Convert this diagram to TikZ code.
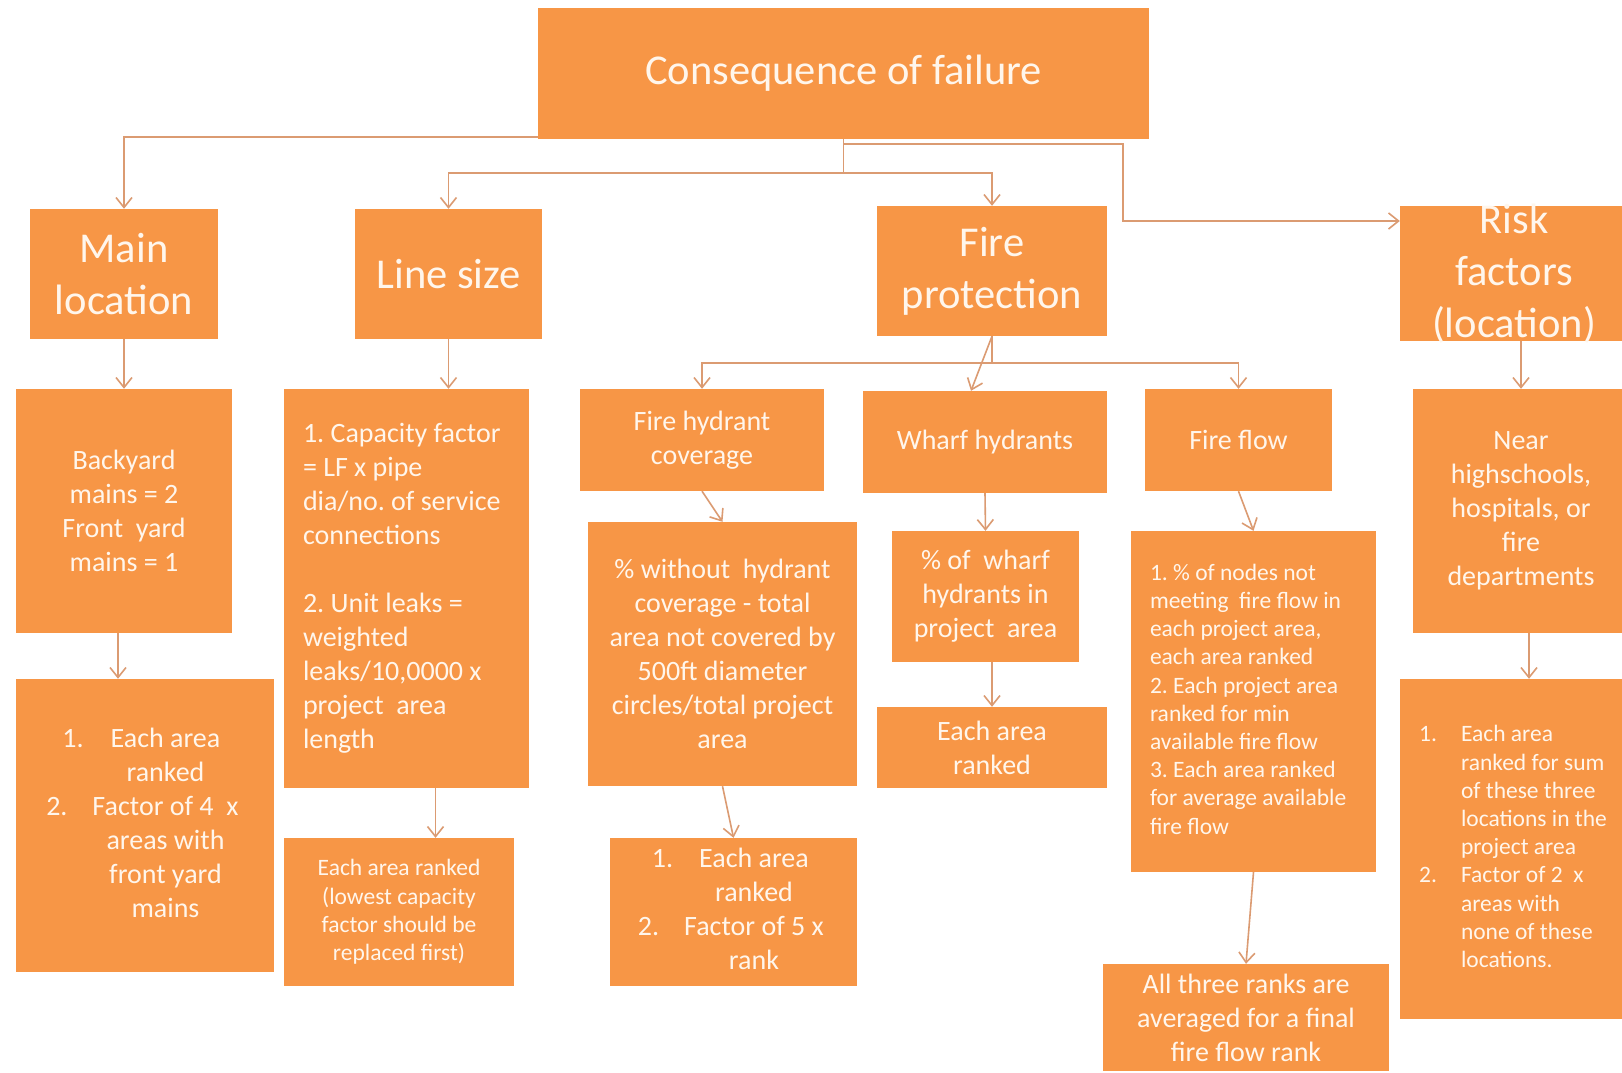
\documentclass[tikz,border=0pt]{standalone}
\usepackage{fontspec}
\setmainfont{Carlito}
\usetikzlibrary{arrows.meta}
\definecolor{boxorange}{HTML}{F79646}
\definecolor{boxtext}{HTML}{FFF6EC}
\definecolor{linktan}{HTML}{DB9B72}
\frenchspacing
\newcommand{\offs}[2]{\hspace*{#1}\begin{tabular}{@{}c@{}}#2\end{tabular}}
\newcommand{\lefttab}[2]{\makebox[#1][l]{\begin{tabular}{@{}l@{}}#2\end{tabular}}}
\tikzset{
  box/.style 2 args={fill=boxorange, text=boxtext, inner sep=0pt,
    minimum width=#1pt, minimum height=#2pt},
  big/.style={font=\fontsize{42.5}{52}\selectfont},
  mid/.style={font=\fontsize{28}{34}\selectfont},
  small/.style={font=\fontsize{23.5}{28.2}\selectfont},
  link/.style={draw=linktan, line width=1.6pt,
    -{Straight Barb[length=10pt,width=16pt]}}
}
\begin{document}
\begin{tikzpicture}[x=1pt,y=-1pt]
\useasboundingbox (0,0) rectangle (1622,1073);
\clip (0,0) rectangle (1622,1073);
\fill[white] (0,0) rectangle (1622,1073);
\node[box={611}{131}, big] (top) at (843.5,73.5) {Consequence of failure};
\node[box={188}{130}, big, align=center] (mainloc) at (124,274) {Main\\location};
\node[box={187}{130}, big] (linesize) at (448.5,274) {Line size};
\node[box={230}{130}, big, align=center] (fireprot) at (992,271) {Fire\\protection};
\node[box={228}{135}, big] (risk) at (1514,273.5)
  {\parbox[c][120pt][c]{220pt}{\centering Risk\\factors\\(location)}};
\node[box={216}{244}, mid, align=center] (backyard) at (124,511)
  {Backyard\\mains = 2\\Front~ yard\\mains = 1};
\node[box={245}{399}, mid] (capacity) at (406.5,588.5)
  {\lefttab{207pt}{1. Capacity factor\\= LF x pipe\\dia/no. of service\\connections\\[34pt]2. Unit leaks =\\weighted\\leaks/10,0000 x\\project~ area\\length}};
\node[box={244}{102}, mid, align=center] (fhc) at (702,440) {Fire hydrant\\coverage};
\node[box={244}{102}, mid] (wharf) at (985,442) {Wharf hydrants};
\node[box={187}{102}, mid] (fireflow) at (1238.5,440) {Fire flow};
\node[box={216}{244}, mid, align=center] (near) at (1521,511)
  {Near\\highschools,\\hospitals, or\\fire\\departments};
\node[box={258}{293}, mid] (rank4) at (145,825.5)
  {\offs{41pt}{\llap{1.\hspace{27pt}}Each area\\ranked\\\llap{2.\hspace{25pt}}Factor of 4~~x\\areas with\\front yard\\mains}};
\node[box={230}{148}, small, align=center] (lowcap) at (399,912)
  {Each area ranked\\(lowest capacity\\factor should be\\replaced first)};
\node[box={269}{264}, mid, align=center] (nohyd) at (722.5,654)
  {\% without~ hydrant\\coverage - total\\area not covered by\\500ft diameter\\circles/total project\\area};
\node[box={187}{131}, mid, align=center] (pwharf) at (985.5,596.5)
  {\% of~ wharf\\hydrants in\\project~ area};
\node[box={230}{81}, mid, align=center] (wrank) at (992,747.5) {Each area\\ranked};
\node[box={245}{341}, small] (nodes) at (1253.5,701.5)
  {\lefttab{207pt}{1. \% of nodes not\\meeting~ fire flow in\\each project area,\\each area ranked\\2. Each project area\\ranked for min\\available fire flow\\3. Each area ranked\\for average available\\fire flow}};
\node[box={247}{148}, mid] (rank5) at (733.5,912)
  {\offs{41pt}{\llap{1.\hspace{26pt}}Each area\\ranked\\\llap{2.\hspace{25pt}}Factor of 5 x\\rank}};
\node[box={286}{107}, mid, align=center] (allthree) at (1246,1017.5)
  {All three ranks are\\averaged for a final\\fire flow rank};
\node[box={300}{340}, small] (sumrank) at (1550,849)
  {\lefttab{178pt}{\llap{1.\hspace{24pt}}Each area\\ranked for sum\\of these three\\locations in the\\project area\\\llap{2.\hspace{24pt}}Factor of 2~ x\\areas with\\none of these\\locations.}};
\coordinate (rbend) at (1123,221);
\draw[link] ([yshift=2pt]top.south west) -| (mainloc);
\draw[link] (top.south) -- ++(0,34) -| (linesize);
\draw[link] (top.south) -- ++(0,34) -| (fireprot);
\draw[link] ([yshift=-5pt]top.south) -| (rbend) -- (rbend -| risk.west);
\draw[link] (fireprot.south) -- ++(0,27) -| (fhc);
\draw[link] (fireprot.south) -- ++(0,27) -| (fireflow);
\path[every edge/.append style={link}]
(fireprot.south) edge ([xshift=-14pt]wharf.north)
(fhc.south) edge (nohyd.north)
(wharf.south) edge (pwharf.north)
(fireflow.south) edge (nodes.north)
(risk.south -| near.north) edge (near.north)
(mainloc) edge (backyard)
(linesize.south) edge (linesize.south |- capacity.north)
(nohyd.south) edge (rank5.north)
(wrank.north |- pwharf.south) edge (wrank.north)
(nodes.south) edge (allthree.north);
\draw[link] ([xshift=-6pt]backyard.south) -- ([xshift=-6pt]backyard.south |- rank4.north);
\draw[link] ([xshift=29pt]capacity.south) -- ([xshift=29pt]capacity.south |- lowcap.north);
\draw[link] ([xshift=8pt]near.south) -- ([xshift=8pt]near.south |- sumrank.north);
\end{tikzpicture}
\end{document}
